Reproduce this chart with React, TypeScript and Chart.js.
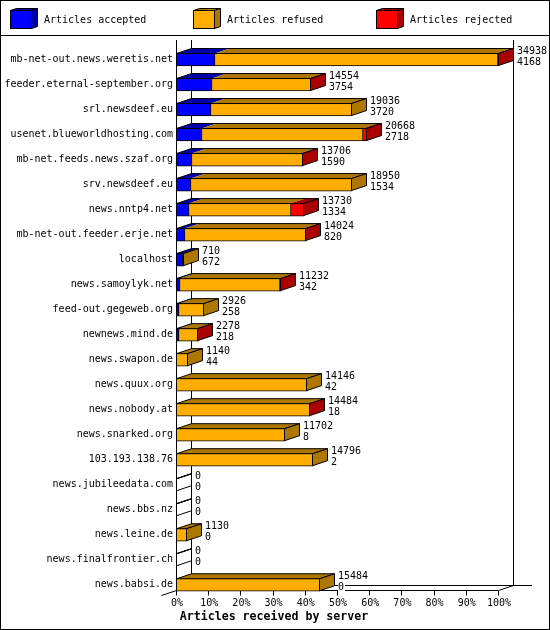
import React, { useEffect, useRef } from "react";
import { Chart, registerables } from "chart.js";

Chart.register(...registerables);

const servers = [
  "mb-net-out.news.weretis.net", "feeder.eternal-september.org", "srl.newsdeef.eu",
  "usenet.blueworldhosting.com", "mb-net.feeds.news.szaf.org", "srv.newsdeef.eu",
  "news.nntp4.net", "mb-net-out.feeder.erje.net", "localhost", "news.samoylyk.net",
  "feed-out.gegeweb.org", "newnews.mind.de", "news.swapon.de", "news.quux.org",
  "news.nobody.at", "news.snarked.org", "103.193.138.76", "news.jubileedata.com",
  "news.bbs.nz", "news.leine.de", "news.finalfrontier.ch", "news.babsi.de",
];
const totals = [34938, 14554, 19036, 20668, 13706, 18950, 13730, 14024, 710, 11232, 2926, 2278, 1140, 14146, 14484, 11702, 14796, 0, 0, 1130, 0, 15484];
const accepted = [4168, 3754, 3720, 2718, 1590, 1534, 1334, 820, 672, 342, 258, 218, 44, 42, 18, 8, 2, 0, 0, 0, 0, 0];
const refused = [30710, 10760, 15316, 17450, 12076, 17416, 11026, 13174, 38, 10860, 2668, 2030, 1096, 14104, 14436, 11694, 14794, 0, 0, 1130, 0, 15484];
const rejected = [60, 40, 0, 500, 40, 0, 1370, 30, 0, 30, 0, 30, 0, 0, 30, 0, 0, 0, 0, 0, 0, 0];
const axisMax = 34938;
const percentTicks = ["0%", "10%", "20%", "30%", "40%", "50%", "60%", "70%", "80%", "90%", "100%"];

const seriesNames = ["Articles accepted", "Articles refused", "Articles rejected"];
const faceColors = ["#0000ff", "#ffae00", "#ff0000"];
const darkColors = ["#0000aa", "#ae7700", "#aa0000"];
const legendBoxX = [10, 193, 376];

const MONO = "'DejaVu Sans Mono', monospace";
const DX = 15;
const DY = 5;

const poly = (ctx: CanvasRenderingContext2D, pts: number[][]) => {
  ctx.beginPath();
  pts.forEach(([x, y], i) => (i ? ctx.lineTo(x, y) : ctx.moveTo(x, y)));
  ctx.closePath();
};
const seg = (ctx: CanvasRenderingContext2D, x0: number, y0: number, x1: number, y1: number) => {
  ctx.beginPath();
  ctx.moveTo(x0, y0);
  ctx.lineTo(x1, y1);
  ctx.stroke();
};

const frame3d = {
  id: "frame3d",
  afterLayout(chart: any) {
    // the title is centred on the picture, not on the plot
    if (chart.titleBlock) {
      chart.titleBlock.left = 0;
      chart.titleBlock.right = 548;
    }
  },
  beforeDraw(chart: any) {
    const { ctx, width, height } = chart;
    ctx.save();
    ctx.fillStyle = "#fff";
    ctx.fillRect(0, 0, width, height);
    ctx.restore();
  },
  beforeDatasetsDraw(chart: any) {
    const { ctx, width, height, scales } = chart;
    // snap the bars to whole pixels, the way the original raster chart is
    chart.data.datasets.forEach((_: any, d: number) => {
      chart.getDatasetMeta(d).data.forEach((el: any) => {
        el.x = Math.round(el.x);
        el.base = Math.round(el.base);
      });
    });
    const x = scales.x;
    const left = Math.round(x.left) - 0.5;
    const right = Math.round(x.right) - 0.5;
    const floor = 590.5;
    const top = 40;
    ctx.save();
    ctx.strokeStyle = "#000";
    ctx.lineWidth = 1;
    ctx.strokeRect(0.5, 0.5, width - 1, height - 1);
    seg(ctx, 0, 35.5, width, 35.5);
    seg(ctx, left + DX, top, left + DX, floor - DY);
    seg(ctx, right + DX, top, right + DX, floor - DY);
    seg(ctx, left + DX, floor - DY, 532, floor - DY);
    seg(ctx, left, floor, right, floor);
    seg(ctx, right, floor, right + DX, floor - DY);
    seg(ctx, left - DX, floor + DY, left, floor);
    x.ticks.forEach((_: any, i: number) => {
      const px = Math.round(x.getPixelForTick(i)) - 0.5;
      seg(ctx, px, floor, px, floor + 5);
    });
    // legend
    ctx.font = `10px ${MONO}`;
    ctx.textBaseline = "middle";
    ctx.textAlign = "left";
    seriesNames.forEach((name, i) => {
      const bx = legendBoxX[i] + 0.5;
      const by = 10.5;
      ctx.fillStyle = faceColors[i];
      ctx.fillRect(bx, by, 21, 18);
      ctx.strokeRect(bx, by, 21, 18);
      ctx.fillStyle = darkColors[i];
      poly(ctx, [[bx, by], [bx + 6, by - 2], [bx + 27, by - 2], [bx + 21, by]]);
      ctx.fill();
      ctx.stroke();
      poly(ctx, [[bx + 21, by], [bx + 27, by - 2], [bx + 27, by + 16], [bx + 21, by + 18]]);
      ctx.fill();
      ctx.stroke();
      ctx.fillStyle = "#000";
      ctx.fillText(name, legendBoxX[i] + 34, 20);
    });
    ctx.restore();
  },
  afterDatasetsDraw(chart: any) {
    const { ctx, scales } = chart;
    const x = scales.x;
    const left = Math.round(x.left) - 0.5;
    const metas = [0, 1, 2].map((d) => chart.getDatasetMeta(d).data);
    ctx.save();
    ctx.strokeStyle = "#000";
    ctx.lineWidth = 1;
    servers.forEach((_, i) => {
      const el = metas[0][i];
      const t = el.y - 6;
      const b = el.y + 6;
      const ends = metas.map((m) => Math.round(m[i].x) - 0.5);
      const end = ends[2];
      let last = -1;
      let from = left;
      [accepted, refused, rejected].forEach((series, s) => {
        if (series[i] > 0) {
          last = s;
          ctx.fillStyle = darkColors[s];
          poly(ctx, [[from, t], [from + DX, t - DY], [ends[s] + DX, t - DY], [ends[s], t]]);
          ctx.fill();
        }
        from = ends[s];
      });
      poly(ctx, [[left, t], [left + DX, t - DY], [end + DX, t - DY], [end, t]]);
      ctx.stroke();
      poly(ctx, [[end, t], [end + DX, t - DY], [end + DX, b - DY], [end, b]]);
      if (last >= 0) {
        ctx.fillStyle = darkColors[last];
        ctx.fill();
      }
      ctx.stroke();
      // value labels
      ctx.font = `10px ${MONO}`;
      ctx.textBaseline = "middle";
      ctx.textAlign = "left";
      const tx = end + DX + 3.5;
      [String(totals[i]), String(accepted[i])].forEach((text, k) => {
        const ty = k === 0 ? t - 2.5 : t + 8.5;
        ctx.fillStyle = "#fff";
        ctx.fillRect(tx, ty - 5, ctx.measureText(text).width + 1, 10);
        ctx.fillStyle = "#000";
        ctx.fillText(text, tx, ty);
      });
    });
    seg(ctx, left, 40, left, 590.5);
    ctx.restore();
  },
};

export default function App() {
  const ref = useRef<HTMLCanvasElement>(null);
  useEffect(() => {
    const chart = new Chart(ref.current as HTMLCanvasElement, {
      type: "bar",
      plugins: [frame3d],
      data: {
        labels: servers,
        datasets: [accepted, refused, rejected].map((values, s) => ({
          label: seriesNames[s],
          data: values,
          backgroundColor: faceColors[s],
          borderColor: "#000",
          borderWidth: 1,
          borderSkipped: "start" as const,
          barThickness: 13,
        })),
      },
      options: {
        indexAxis: "y",
        responsive: false,
        animation: false,
        devicePixelRatio: 1,
        layout: { padding: { top: 47, right: 51, left: 0, bottom: 0 } },
        plugins: {
          legend: { display: false },
          tooltip: { enabled: false },
          title: {
            display: true,
            position: "bottom",
            text: "Articles received by server",
            color: "#000",
            font: { family: MONO, size: 11.6, weight: "bold", lineHeight: 1.2 },
            padding: { top: 0, bottom: 6 },
          },
        },
        scales: {
          x: {
            stacked: true,
            min: 0,
            max: axisMax,
            border: { display: false },
            grid: { display: false, drawTicks: false },
            afterFit: (s: any) => { s.height = 12.8; },
            ticks: {
              stepSize: axisMax / 10,
              autoSkip: false,
              maxRotation: 0,
              padding: 0,
              color: "#000",
              font: { family: MONO, size: 10 },
              callback: (_v: any, i: number) => percentTicks[i],
            },
          },
          y: {
            stacked: true,
            border: { display: false },
            grid: { display: false, drawTicks: false },
            afterFit: (s: any) => { s.width = 177; },
            ticks: {
              autoSkip: false,
              padding: 4,
              color: "#000",
              font: { family: MONO, size: 10 },
            },
          },
        },
      },
    });
    return () => chart.destroy();
  }, []);
  return (
    <canvas
      ref={ref}
      width={550}
      height={630}
      style={{ position: "absolute", left: 0, top: 0, display: "block" }}
    />
  );
}
